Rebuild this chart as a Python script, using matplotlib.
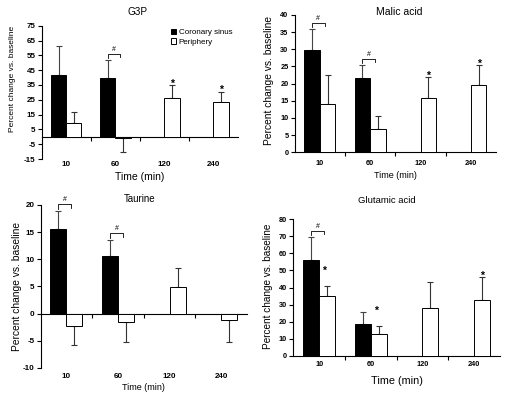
import numpy as np
import matplotlib.pyplot as plt

plt.rcParams['font.family'] = ['Liberation Sans', 'DejaVu Sans']

times = ['10', '60', '120', '240']
legend_labels = ['Coronary sinus', 'Periphery']

# values (percent change vs. baseline, mean and one-sided error)
g3p_cs = [42, 40, np.nan, np.nan]
g3p_cs_err = [19.5, 12, np.nan, np.nan]
g3p_per = [9, -1, 26, 23.5]
g3p_per_err = [8, 9.5, 9, 7]

malic_cs = [29.8, 21.5, np.nan, np.nan]
malic_cs_err = [6.2, 4, np.nan, np.nan]
malic_per = [14.2, 6.7, 15.9, 19.6]
malic_per_err = [8.4, 3.8, 5.9, 5.7]

taurine_cs = [15.6, 10.7, np.nan, np.nan]
taurine_cs_err = [3.3, 2.8, np.nan, np.nan]
taurine_per = [-2.3, -1.5, 4.9, -1.2]
taurine_per_err = [3.5, 3.8, 3.5, 4.1]

glut_cs = [56.4, 18.5, np.nan, np.nan]
glut_cs_err = [13.2, 7.4, np.nan, np.nan]
glut_per = [35, 12.5, 27.8, 32.5]
glut_per_err = [5.9, 5.2, 15.6, 13.8]

# significance marks: '#' bracket groups, '*' groups above periphery bars, '*' groups beside them
g3p_hash, g3p_star, g3p_side = [1], [2, 3], []
malic_hash, malic_star, malic_side = [0, 1], [2, 3], []
taurine_hash, taurine_star, taurine_side = [0, 1], [], []
glut_hash, glut_star, glut_side = [0], [3], [0, 1]

W = 0.31


def one_sided(vals, errs):
    vals = np.asarray(vals, float)
    errs = np.asarray(errs, float)
    lo = np.where(vals < 0, errs, 0)
    hi = np.where(vals >= 0, errs, 0)
    return np.vstack([lo, hi])


def panel(fig, rect, title, cs, cs_err, per, per_err, ylim, step, yticks0,
          hashes, stars, side, title_xy, title_fs, ylab_xy, ylab_fs,
          xlab_y, xlab_fs, tick_fs, xpad, legend=False):
    ax = fig.add_axes(rect)
    x = np.arange(len(times))
    rng = ylim[1] - ylim[0]
    ax.bar(x - W / 2, cs, W, color='black', edgecolor='black', lw=0.7,
           label=legend_labels[0], zorder=2)
    ax.bar(x + W / 2, per, W, color='white', edgecolor='black', lw=0.7,
           label=legend_labels[1], zorder=2)
    ax.errorbar(x - W / 2, cs, yerr=one_sided(cs, cs_err), fmt='none',
                ecolor='#444444', elinewidth=0.8, capsize=2.2, capthick=0.8, zorder=1)
    ax.errorbar(x + W / 2, per, yerr=one_sided(per, per_err), fmt='none',
                ecolor='#333333', elinewidth=0.8, capsize=2.2, capthick=0.8, zorder=1)

    ax.set_xlim(-0.5, len(times) - 0.5)
    ax.set_ylim(*ylim)
    ax.set_yticks(np.arange(yticks0, ylim[1] + 0.01, step))
    ax.set_yticklabels([f'{v:g}' for v in np.arange(yticks0, ylim[1] + 0.01, step)],
                       fontweight='bold')
    ax.set_xticks(x)
    ax.set_xticklabels(times, fontweight='bold')
    ax.tick_params(axis='x', length=0, pad=xpad, labelsize=tick_fs)
    ax.tick_params(axis='y', length=3, width=0.8, pad=1.5, labelsize=tick_fs)
    for s in ['top', 'right', 'bottom']:
        ax.spines[s].set_visible(False)
    ax.spines['left'].set_linewidth(0.8)

    # category axis crossing at zero, with ticks between categories
    zero = (0 - ylim[0]) / rng
    sec = ax.secondary_xaxis(zero)
    sec.set_xticks(x[:-1] + 0.5)
    sec.xaxis.set_ticks_position('bottom')
    sec.tick_params(length=3, width=0.8, labelbottom=False, labeltop=False)
    sec.spines['bottom'].set_linewidth(0.8)
    sec.spines['top'].set_visible(False)

    for i in hashes:
        top = cs[i] + cs_err[i]
        yb = top + 0.045 * rng
        xl, xr = i - W / 2, i + W * 0.3
        ax.plot([xl, xl, xr, xr], [yb - 0.03 * rng, yb, yb, yb - 0.025 * rng],
                color='black', lw=0.6, clip_on=False)
        ax.text((xl + xr) / 2, yb + 0.005 * rng, '#', ha='center', va='bottom',
                fontsize=5, clip_on=False)
    for i in stars:
        top = per[i] + per_err[i]
        ax.text(i + W / 2, top + 0.01 * rng, '*', ha='center', va='center',
                fontsize=7.5, fontweight='bold', clip_on=False)
    for i in side:
        top = per[i] + per_err[i]
        ax.text(i + 0.1, top + 0.11 * rng, '*', ha='center', va='center',
                fontsize=7.5, fontweight='bold', clip_on=False)

    ax.text(title_xy[0], title_xy[1], title, transform=ax.transAxes,
            ha='center', va='center', fontsize=title_fs)
    ax.set_ylabel('Percent change vs. baseline', fontsize=ylab_fs, va='center')
    ax.yaxis.set_label_coords(*ylab_xy)
    ax.set_xlabel('Time (min)', fontsize=xlab_fs)
    ax.xaxis.set_label_coords(0.5, xlab_y)

    if legend:
        ax.legend(loc='upper right', bbox_to_anchor=(1.0, 1.02), frameon=False,
                  fontsize=5.8, handlelength=0.7, handleheight=0.7,
                  handletextpad=0.3, labelspacing=0.25, borderpad=0.2)
    return ax


fig = plt.figure(figsize=(5.17, 3.94), dpi=100)

panel(fig, [0.0807, 0.5964, 0.3797, 0.3383], 'G3P',
      g3p_cs, g3p_cs_err, g3p_per, g3p_per_err, (-15, 75), 10, -15,
      g3p_hash, g3p_star, g3p_side, (0.49, 1.10), 7.2, (-0.151, 0.60), 6.0,
      -0.10, 7.5, 5.8, 1.5, legend=True)
panel(fig, [0.570, 0.6135, 0.3894, 0.3485], 'Malic acid',
      malic_cs, malic_cs_err, malic_per, malic_per_err, (0, 40), 5, 0,
      malic_hash, malic_star, malic_side, (0.52, 1.022), 7.5, (-0.129, 0.523), 7.4,
      -0.138, 6.5, 5.3, 5.5)
panel(fig, [0.0787, 0.066, 0.399, 0.4137], 'Taurine',
      taurine_cs, taurine_cs_err, taurine_per, taurine_per_err, (-10, 20), 5, -10,
      taurine_hash, taurine_star, taurine_side, (0.481, 1.035), 7, (-0.116, 0.499), 7.4,
      -0.089, 6.5, 5.8, 3.5)
panel(fig, [0.5673, 0.0972, 0.3998, 0.3462], 'Glutamic acid',
      glut_cs, glut_cs_err, glut_per, glut_per_err, (0, 80), 10, 0,
      glut_hash, glut_star, glut_side, (0.453, 1.14), 6.8, (-0.122, 0.512), 7.2,
      -0.15, 7.8, 5.3, 3.5)

fig.savefig('out.png', dpi=100)
